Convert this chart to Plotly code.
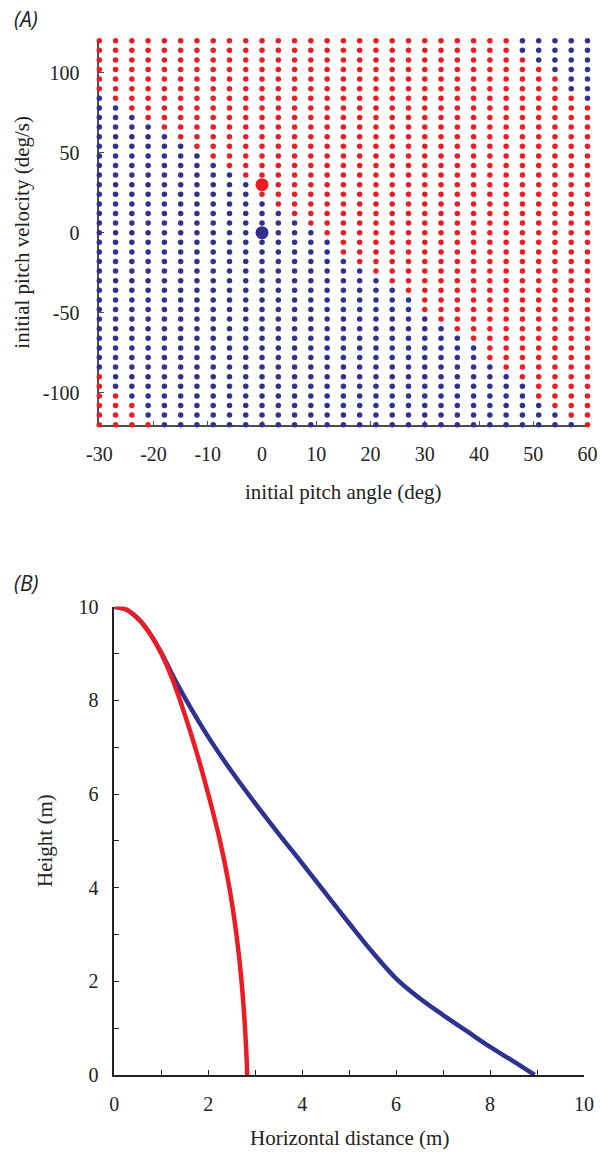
import numpy as np
import plotly.graph_objects as go

# ---- Panel A: outcome map over initial pitch angle / pitch velocity ----
pitch_angles = list(range(-30, 61, 3))          # deg
pitch_velocities = list(range(120, -121, -6))   # deg/s, top row first

# For each velocity row: angle spans (inclusive, deg) whose outcome is "blue"
blue_spans = [
    [(48, 60)], [(48, 60)], [(51, 60)], [(54, 60)], [(57, 60)], [(57, 60)],
    [(-30, -30), (60, 60)],
    [(-30, -27)], [(-30, -24)], [(-30, -21)], [(-30, -18)], [(-30, -15)],
    [(-30, -12)], [(-30, -9)], [(-30, -6)], [(-30, -3)], [(-30, -3)],
    [(-30, 0)], [(-30, 3)], [(-30, 6)], [(-30, 9)], [(-30, 12)], [(-30, 12)],
    [(-30, 15)], [(-30, 18)], [(-30, 21)], [(-30, 24)], [(-30, 27)], [(-30, 27)],
    [(-30, 30)], [(-30, 33)], [(-30, 36)], [(-30, 39)], [(-30, 39)], [(-30, 42)],
    [(-27, 45)], [(-27, 48)], [(-24, 48)], [(-21, 51)], [(-21, 54)], [(-18, 57)],
]

# Highlighted initial conditions (angle, velocity)
highlight_red = (0, 30)
highlight_blue = (0, 0)

a_xticks = [-30, -20, -10, 0, 10, 20, 30, 40, 50, 60]
a_yticks = [-100, -50, 0, 50, 100]

# ---- Panel B: trajectories (horizontal distance, height) ----
blue_x = [0, 0.25, 0.5, 0.75, 1.0, 1.25, 1.5, 2.0, 2.5, 3.0, 3.5, 4.0, 4.5,
          5.0, 5.5, 6.0, 6.5, 7.0, 7.5, 8.0, 8.5, 8.95]
blue_y = [10, 9.94, 9.75, 9.44, 9.02, 8.52, 8.06, 7.22, 6.48, 5.8, 5.15, 4.52, 3.88,
          3.24, 2.62, 2.06, 1.64, 1.28, 0.94, 0.6, 0.29, 0]
red_x = [0, 0.25, 0.5, 0.75, 1.0, 1.25, 1.5, 1.75, 2.0, 2.25, 2.45, 2.6, 2.7,
         2.77, 2.81, 2.83]
red_y = [10, 9.94, 9.75, 9.44, 9.0, 8.42, 7.7, 6.9, 6.0, 5.0, 4.0, 3.0, 2.1,
         1.2, 0.5, 0]
b_ticks = list(range(0, 11))

RED = "#ED1C24"
BLUE = "#2E3192"
AXIS = "#4d4d4d"
SERIF = "Liberation Serif"

# classify grid
red_pts, blue_pts = ([], []), ([], [])
for v, spans in zip(pitch_velocities, blue_spans):
    for a in pitch_angles:
        is_blue = any(lo <= a <= hi for lo, hi in spans)
        tgt = blue_pts if is_blue else red_pts
        tgt[0].append(a)
        tgt[1].append(v)

W, H = 600, 1152
def px_x(a, b):
    return [a / W, b / W]
def px_y(top, bottom):
    return [1 - bottom / H, 1 - top / H]

fig = go.Figure()
dot = dict(size=5.5, line=dict(width=0))
fig.add_trace(go.Scatter(x=red_pts[0], y=red_pts[1], mode="markers",
                         marker=dict(color=RED, **dot), xaxis="x", yaxis="y",
                         cliponaxis=False, showlegend=False))
fig.add_trace(go.Scatter(x=blue_pts[0], y=blue_pts[1], mode="markers",
                         marker=dict(color=BLUE, **dot), xaxis="x", yaxis="y",
                         cliponaxis=False, showlegend=False))
fig.add_trace(go.Scatter(x=[highlight_red[0]], y=[highlight_red[1]], mode="markers",
                         marker=dict(color=RED, size=13, line=dict(width=0)),
                         xaxis="x", yaxis="y", showlegend=False))
fig.add_trace(go.Scatter(x=[highlight_blue[0]], y=[highlight_blue[1]], mode="markers",
                         marker=dict(color=BLUE, size=13, line=dict(width=0)),
                         xaxis="x", yaxis="y", showlegend=False))

fig.add_trace(go.Scatter(x=blue_x, y=blue_y, mode="lines",
                         line=dict(color=BLUE, width=4.5, shape="spline"),
                         xaxis="x2", yaxis="y2", cliponaxis=False, showlegend=False))
fig.add_trace(go.Scatter(x=red_x, y=red_y, mode="lines",
                         line=dict(color=RED, width=4.5, shape="spline"),
                         xaxis="x2", yaxis="y2", cliponaxis=False, showlegend=False))

tickfont = dict(family=SERIF, size=20, color="#222")
common = dict(showgrid=False, zeroline=False, showline=True, ticks="inside",
              tickfont=tickfont, layer="below traces", fixedrange=True,
              automargin=False)

fig.update_layout(
    width=W, height=H, margin=dict(l=0, r=0, t=0, b=0, pad=0, autoexpand=False),
    paper_bgcolor="white", plot_bgcolor="white",
    xaxis=dict(domain=px_x(99.3, 587.5), range=[-30, 60], anchor="y",
               tickvals=a_xticks, ticktext=[str(v) for v in a_xticks],
               linecolor=AXIS, linewidth=1.6, tickcolor=AXIS, ticklen=4, tickwidth=1.2,
               ticklabelstandoff=10, **common),
    yaxis=dict(domain=px_y(40.7, 424.7), range=[-120, 120], anchor="x",
               tickvals=a_yticks, ticktext=[str(v) for v in a_yticks],
               linecolor=AXIS, linewidth=1.6, tickcolor=AXIS, ticklen=5, tickwidth=1.2,
               ticklabelstandoff=14, **common),
    xaxis2=dict(domain=px_x(114.3, 584), range=[0, 10], anchor="y2",
                tickvals=b_ticks,
                ticktext=[str(v) if v % 2 == 0 else "" for v in b_ticks],
                linecolor="#222", linewidth=1.6, tickcolor="#222", ticklen=5, tickwidth=1.2,
                ticklabelstandoff=10, **common),
    yaxis2=dict(domain=px_y(606.7, 1075), range=[0, 10], anchor="x2",
                tickvals=b_ticks,
                ticktext=[str(v) if v % 2 == 0 else "" for v in b_ticks],
                linecolor="#222", linewidth=1.6, tickcolor="#222", ticklen=5, tickwidth=1.2,
                ticklabelstandoff=10, **common),
)

def label(text, x, y, size=21, angle=0, family=SERIF):
    fig.add_annotation(text=text, x=x / W, y=1 - y / H, xref="paper", yref="paper",
                       xanchor="center", yanchor="middle",
                       showarrow=False, textangle=angle,
                       font=dict(family=family, size=size, color="#222"))

label("initial pitch angle (deg)", 343, 492)
label("initial pitch velocity (deg/s)", 22, 232.7, angle=-90)
label("Horizontal distance (m)", 349, 1138)
label("Height (m)", 45, 841, angle=-90)
label("<i>(A)</i>", 26, 19, size=21, family="Open Sans")
label("<i>(B)</i>", 26, 583, size=21, family="Open Sans")

fig.write_html("out.html")
